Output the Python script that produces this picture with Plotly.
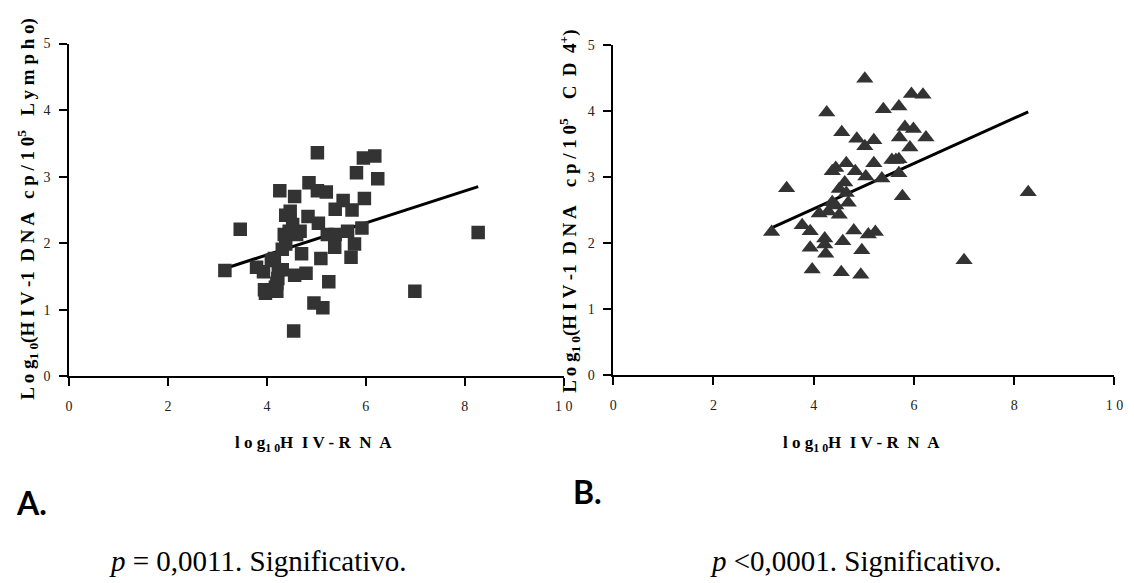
import plotly.graph_objects as go

# ---- data: panel A (per 10^5 lymphocytes) ----
a_x = [3.15, 3.46, 3.79, 3.93, 3.95, 3.97, 4.17, 4.20, 4.15, 4.26, 4.31, 4.22, 4.38, 4.47,
       4.56, 4.35, 4.38, 4.45, 4.52, 4.60, 4.67, 4.70, 4.56, 4.54, 4.79, 4.83, 4.85, 5.02,
       5.02, 5.04, 5.09, 4.95, 5.13, 5.20, 5.22, 5.25, 5.38, 5.38, 5.37, 5.54, 5.72, 5.63,
       5.77, 5.70, 5.81, 5.95, 6.18, 6.24, 5.97, 5.92, 6.99, 8.27, 4.09, 4.31, 4.23, 4.20]
a_y = [1.59, 2.21, 1.64, 1.57, 1.30, 1.25, 1.34, 1.28, 1.77, 2.79, 1.60, 1.47, 2.42, 2.48,
       2.70, 2.13, 1.99, 2.18, 2.28, 2.13, 2.18, 1.84, 1.52, 0.68, 1.55, 2.40, 2.91, 3.36,
       2.79, 2.30, 1.77, 1.10, 1.03, 2.77, 2.13, 1.42, 2.51, 2.13, 1.94, 2.64, 2.50, 2.18,
       1.99, 1.79, 3.06, 3.28, 3.31, 2.97, 2.67, 2.23, 1.28, 2.16, 1.74, 1.91, 1.60, 1.40]
a_fit_x = [3.15, 8.27]
a_fit_y = [1.62, 2.85]

# ---- data: panel B (per 10^5 CD4+) ----
b_x = [3.16, 3.46, 3.77, 3.93, 3.93, 3.97, 4.22, 4.22, 4.24, 4.26, 4.11, 4.29, 4.37, 4.44,
       4.51, 4.37, 4.44, 4.51, 4.58, 4.56, 4.62, 4.65, 4.69, 4.65, 4.55, 4.80, 4.83, 4.86,
       4.96, 4.94, 5.02, 5.02, 5.04, 5.09, 5.23, 5.20, 5.20, 5.36, 5.39, 5.56, 5.70, 5.70,
       5.71, 5.70, 5.77, 5.82, 5.92, 5.99, 5.95, 6.18, 6.24, 7.00, 8.28, 5.64]
b_y = [2.17, 2.83, 2.27, 2.18, 1.93, 1.60, 2.07, 1.98, 1.84, 3.98, 2.45, 2.48, 2.62, 2.57,
       2.43, 3.09, 3.14, 2.82, 2.03, 3.68, 2.92, 2.76, 2.61, 3.21, 1.56, 2.19, 3.09, 3.58,
       1.89, 1.52, 4.49, 3.47, 3.01, 2.13, 2.17, 3.56, 3.21, 2.98, 4.03, 3.26, 3.27, 4.07,
       3.60, 3.06, 2.71, 3.76, 3.45, 3.73, 4.26, 4.25, 3.60, 1.74, 2.77, 3.26]
b_fit_x = [3.16, 8.28]
b_fit_y = [2.23, 3.99]

x_ticks = [0, 2, 4, 6, 8, 10]
x_ticktext = ["0", "2", "4", "6", "8", "1 0"]
y_ticks = [0, 1, 2, 3, 4, 5]

# page body has an 8px margin: the figure is drawn 8px right/down, filling the rest
OFF = 8
W, H = 1134 - OFF, 583 - OFF
def fx(p): return (p - OFF) / W
def fy(p): return 1 - (p - OFF) / H

MARK = "#333333"
SERIF = "Liberation Serif, Times New Roman, serif"

fig = go.Figure()
fig.add_trace(go.Scatter(x=a_fit_x, y=a_fit_y, mode="lines", line=dict(color="black", width=3),
                         xaxis="x", yaxis="y", showlegend=False, hoverinfo="skip"))
fig.add_trace(go.Scatter(x=a_x, y=a_y, mode="markers",
                         marker=dict(symbol="square", size=13.5, color=MARK, line=dict(width=0)),
                         xaxis="x", yaxis="y", showlegend=False))
fig.add_trace(go.Scatter(x=b_fit_x, y=b_fit_y, mode="lines", line=dict(color="black", width=3),
                         xaxis="x2", yaxis="y2", showlegend=False, hoverinfo="skip"))
fig.add_trace(go.Scatter(x=b_x, y=b_y, mode="markers",
                         marker=dict(symbol="triangle-up", size=15, color=MARK, line=dict(width=0)),
                         xaxis="x2", yaxis="y2", showlegend=False))

axis_common = dict(showline=True, linecolor="black", linewidth=1.5, ticks="outside",
                   ticklen=8, tickwidth=1.5, tickcolor="black", showgrid=False, zeroline=False,
                   tickfont=dict(family=SERIF, size=14, color="#222"))

fig.update_layout(
    width=W, height=H, margin=dict(l=0, r=0, t=0, b=0),
    paper_bgcolor="white", plot_bgcolor="white",
    xaxis=dict(domain=[fx(66.7), fx(566.7)], range=[0, 10], tickvals=x_ticks, ticktext=x_ticktext,
               anchor="y", ticklabelstandoff=8, **axis_common),
    yaxis=dict(domain=[fy(379), fy(37.3)], range=[0, 5], tickvals=y_ticks, anchor="x",
               ticklabelstandoff=6, **axis_common),
    xaxis2=dict(domain=[fx(616.7), fx(1123.3)], range=[0, 10], tickvals=x_ticks, ticktext=x_ticktext,
                anchor="y2", ticklabelstandoff=8, **axis_common),
    yaxis2=dict(domain=[fy(377.7), fy(39)], range=[0, 5], tickvals=y_ticks, anchor="x2",
                ticklabelstandoff=6, **axis_common),
)

bold_serif = dict(family=SERIF, size=19, color="black", weight="bold")
ann = []
ann.append(dict(x=fx(25), y=fy(207), xref="paper", yref="paper", textangle=-90, showarrow=False,
                text="L o g<sub>1 0</sub>(H I V -1  D N A   c p / 1 0<sup>5</sup>   L y m p h o)",
                font=bold_serif, xanchor="center", yanchor="middle"))
ann.append(dict(x=fx(573), y=fy(209), xref="paper", yref="paper", textangle=-90, showarrow=False,
                text="L o g<sub>1 0</sub>(H I V -1  D N A    c p / 1 0<sup>5</sup>    C  D  4<sup>+</sup>)",
                font=bold_serif, xanchor="center", yanchor="middle"))
x_title_font = dict(family=SERIF, size=17, color="black", weight="bold")
ann.append(dict(x=fx(314), y=fy(448), xref="paper", yref="paper", showarrow=False,
                text="l o g<sub>1 0</sub>H  I V - R  N  A", font=x_title_font,
                xanchor="center", yanchor="middle"))
ann.append(dict(x=fx(868), y=fy(448), xref="paper", yref="paper", showarrow=False,
                text="l o g<sub>1 0</sub>H  I V - R  N  A", font=x_title_font,
                xanchor="center", yanchor="middle"))
label_font = dict(family="Lato, Open Sans, sans-serif", size=32, color="black", weight="bold")
ann.append(dict(x=fx(11), y=fy(509), xref="paper", yref="paper", showarrow=False, text="A.",
                font=label_font, xanchor="left", yanchor="middle"))
ann.append(dict(x=fx(574), y=fy(497), xref="paper", yref="paper", showarrow=False, text="B.",
                font=label_font, xanchor="left", yanchor="middle"))
p_font = dict(family=SERIF, size=29, color="black")
ann.append(dict(x=fx(105), y=fy(569), xref="paper", yref="paper", showarrow=False,
                text="<i>p</i> = 0,0011. Significativo.", font=p_font,
                xanchor="left", yanchor="middle"))
ann.append(dict(x=fx(713), y=fy(569), xref="paper", yref="paper", showarrow=False,
                text="<i>p</i> <0,0001. Significativo.", font=p_font,
                xanchor="left", yanchor="middle"))
fig.update_layout(annotations=ann)

fig.write_html("out.html")
